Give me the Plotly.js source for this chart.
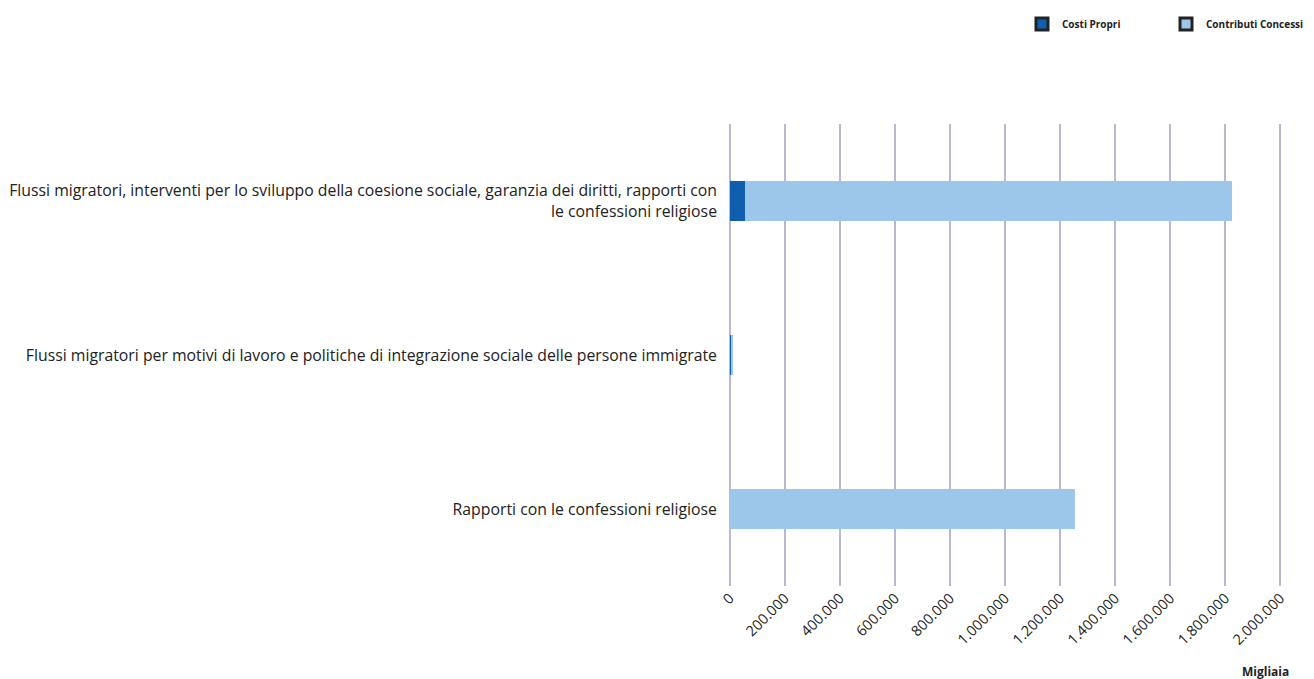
<!DOCTYPE html>
<html>
<head>
<meta charset="utf-8">
<script src="https://cdn.plot.ly/plotly-3.0.1.min.js"></script>
<style>html,body{margin:0;padding:0;background:#fff;}#chart{width:1314px;height:679px;}</style>
</head>
<body>
<div id="chart"></div>
<script>
const categories = [
  "Flussi migratori, interventi per lo sviluppo della coesione sociale, garanzia dei diritti, rapporti con<br>le confessioni religiose",
  "Flussi migratori per motivi di lavoro e politiche di integrazione sociale delle persone immigrate",
  "Rapporti con le confessioni religiose"
];
const seriesNames = ["Costi Propri", "Contributi Concessi"];
const costiPropri = [56000, 8000, 0];
const contributiConcessi = [1769000, 4000, 1253000];
const tickValues = [0, 200000, 400000, 600000, 800000, 1000000, 1200000, 1400000, 1600000, 1800000, 2000000];
const axisUnit = "Migliaia";

const colors = ["#0f5fae", "#9dc7ea"];
const font = "Open Sans, sans-serif";

const traces = [
  {type: "bar", orientation: "h", name: seriesNames[0], y: categories, x: costiPropri,
   marker: {color: colors[0]}, showlegend: false, hoverinfo: "x"},
  {type: "bar", orientation: "h", name: seriesNames[1], y: categories, x: contributiConcessi,
   marker: {color: colors[1]}, showlegend: false, hoverinfo: "x"},
  {type: "bar", orientation: "h", name: "<b>" + seriesNames[0] + "</b>", y: [categories[0]], x: [null],
   marker: {color: colors[0], line: {color: "#222", width: 3}}, showlegend: true},
  {type: "bar", orientation: "h", name: "<b>" + seriesNames[1] + "</b>", y: [categories[0]], x: [null],
   marker: {color: colors[1], line: {color: "#222", width: 3}}, showlegend: true}
];

const layout = {
  width: 1314, height: 679,
  barmode: "stack",
  bargap: 0.74,
  separators: ",.",
  font: {family: font, color: "#222"},
  paper_bgcolor: "#fff", plot_bgcolor: "#fff",
  margin: {l: 727, r: 31, t: 124, b: 93, autoexpand: false},
  xaxis: {
    range: [-10000, 2010000], tickvals: tickValues, tickformat: ",d",
    tickangle: -45, tickfont: {size: 14.5, family: font, color: "#222"},
    showgrid: true, gridcolor: "#bcb8d4", gridwidth: 2,
    zeroline: false, showline: false, ticks: "", fixedrange: true
  },
  yaxis: {
    autorange: "reversed", type: "category",
    tickfont: {size: 15.8, family: font, color: "#222"},
    showgrid: false, zeroline: false, showline: false, ticks: "",
    ticklabelstandoff: 9, fixedrange: true
  },
  legend: {
    orientation: "h", xref: "container", yref: "container",
    x: 1022 / 1314, xanchor: "left", y: 1 - 24 / 679, yanchor: "middle",
    font: {size: 10, family: font, color: "#222"},
    entrywidth: 99, entrywidthmode: "pixels", traceorder: "normal"
  },
  annotations: [
    {text: "<b>" + axisUnit + "</b>", xref: "paper", yref: "paper", x: 0.9694, y: -0.186,
     xanchor: "center", yanchor: "middle", showarrow: false,
     font: {size: 12, family: font, color: "#222"}}
  ]
};

Plotly.newPlot("chart", traces, layout, {displayModeBar: false, responsive: false});
</script>
</body>
</html>
